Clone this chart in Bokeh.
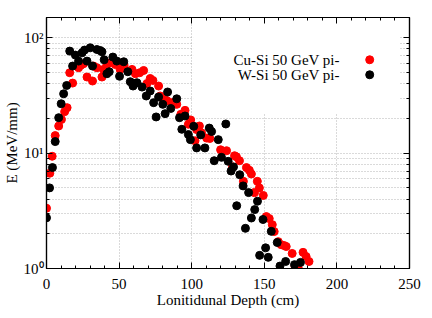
from bokeh.plotting import figure
from bokeh.models import (Range1d, LinearAxis, FixedTicker, Label, BoxAnnotation)
from bokeh.embed import file_html
from bokeh.resources import INLINE

# ---------------- data ----------------
cu_depth = [0, 2.3, 3.9, 6.0, 8.4, 10.3, 12.5, 14.2, 16.0, 18.0, 22.1, 23.8, 25.5,
            27.9, 31.7, 32.4, 34.7, 38.2, 39.2, 41.6, 43.8, 47.3, 49.8, 50.7, 53.4,
            58.9, 61.2, 64.2, 66.9, 69.2, 71.4, 73.3, 77.2, 78.3, 80.6, 82.9, 86.3,
            89.7, 92.5, 95.4, 97.7, 99.3, 102.3, 103.4, 105.3, 106.8, 110.3, 112.5,
            119.9, 124.0, 128.1, 129.5, 130.8, 132.9, 135.6, 137.7, 139.7, 141.1,
            143.2, 145.2, 146.6, 149.3, 151.4, 153.4, 155.5, 156.8, 159.6, 161.6,
            163.7, 165.1, 169.2, 171.2, 173.3, 176.7, 178.8, 180.8]
cu_energy = [3.33, 6.7, 9.4, 14.2, 17.2, 19.6, 22.9, 24.8, 49.8, 40.5, 55.0, 58.0, 59.6,
             45.7, 42.2, 56.9, 55.0, 45.7, 53.2, 58.7, 60.8, 58.7, 60.8, 53.2, 57.3,
             53.2, 48.8, 49.8, 52.1, 40.2, 44.4, 42.7, 38.2, 31.3, 29.2, 28.6, 27.4,
             26.5, 21.7, 23.5, 17.8, 19.4, 12.8, 16.0, 17.2, 15.0, 13.5, 13.4,
             10.7, 10.5, 7.6, 9.5, 9.3, 8.6, 5.7, 7.5, 7.1, 6.6,
             4.55, 5.7, 5.0, 4.3, 2.82, 2.71, 2.40, 2.09, 1.71, 1.61,
             1.58, 1.55, 1.35, 1.04, 1.02, 1.38, 1.27, 1.15]

w_depth = [0.0, 2.1, 4.1, 6.0, 8.4, 10.1, 11.8, 13.9, 16.0, 18.0, 19.9, 22.1, 24.5,
           26.2, 27.9, 30.1, 31.7, 34.7, 37.0, 38.2, 39.7, 41.6, 43.2, 45.7, 48.4,
           50.3, 53.2, 56.0, 57.7, 59.6, 62.3, 65.8, 68.7, 71.4, 73.8, 75.5, 77.2,
           80.1, 81.7, 83.4, 85.6, 89.7, 91.6, 93.2, 95.4, 97.7, 99.1, 101.4, 103.4,
           106.2, 109.1, 112.1, 113.7, 115.5, 118.3, 120.5, 123.5, 125.1, 127.1,
           128.8, 131.0, 133.1, 135.4, 137.0, 139.2, 141.1, 143.4, 145.3, 146.8,
           149.1, 150.9, 152.7, 154.8, 158.9, 160.8, 164.7, 170.8, 174.9]
w_energy = [2.75, 5.0, 7.5, 12.6, 20.3, 26.8, 32.7, 38.6, 76.7, 56.9, 70.8, 62.8, 74.1,
            78.3, 62.8, 81.9, 56.9, 79.2, 77.6, 75.7, 64.5, 48.8, 50.8, 68.1, 62.8,
            46.4, 62.0, 50.8, 41.6, 38.2, 40.8, 37.4, 31.3, 34.6, 27.4, 20.6, 30.7,
            26.5, 22.0, 33.9, 24.4, 29.6, 20.3, 16.1, 21.0, 14.5, 13.1, 17.1, 11.1,
            14.4, 11.1, 16.5, 15.4, 8.6, 13.1, 9.2, 17.9, 8.5, 7.0,
            7.6, 3.5, 6.5, 5.2, 2.23, 4.55, 2.74, 3.24, 3.83, 1.30,
            2.66, 1.51, 1.25, 2.10, 1.68, 1.05, 1.15, 1.08, 1.13]

x_ticks = [0, 50, 100, 150, 200, 250]
y_ticks = [1, 10, 100]
y_tick_labels = ["10\u2070", "10\u00b9", "10\u00b2"]
legend_labels = ["Cu-Si 50 GeV pi-", "W-Si 50 GeV pi-"]
series_colors = ["#ff0000", "#000000"]
x_title = "Lonitidunal Depth (cm)"
y_title = "E (MeV/mm)"

# ---------------- styling / layout ----------------
FONT = "Liberation Serif"
FS = "15px"
GRID = "#b4b4b4"
x_minor = list(range(0, 251, 10))
y_minor = [m * 10 ** e for e in range(0, 3) for m in range(2, 10) if m * 10 ** e <= 150]

p = figure(width=424, height=310,
           x_range=Range1d(0, 250), y_range=Range1d(1, 150),
           y_axis_type="log", output_backend="svg", toolbar_location=None,
           min_border_left=36, min_border_right=15, min_border_top=17,
           min_border_bottom=41, x_axis_label=x_title, y_axis_label=y_title)
p.background_fill_color = "white"
p.border_fill_color = "white"
p.outline_line_color = "black"
p.outline_line_width = 1.2

xt = FixedTicker(ticks=x_ticks, minor_ticks=x_minor)
yt = FixedTicker(ticks=y_ticks, minor_ticks=y_minor)

def style_axis(ax, ticker, labels=True):
    ax.ticker = ticker
    ax.axis_line_color = "black"
    ax.axis_line_width = 1.2
    ax.major_tick_in = 6
    ax.major_tick_out = 0
    ax.minor_tick_in = 3
    ax.minor_tick_out = 0
    ax.major_tick_line_color = "black"
    ax.minor_tick_line_color = "black"
    ax.major_label_text_font = FONT
    ax.axis_label_text_font = FONT
    ax.axis_label_text_font_size = FS
    ax.axis_label_text_font_style = "normal"
    ax.axis_label_text_color = "black"
    if labels:
        ax.major_label_text_font_size = FS
        ax.major_label_text_color = "black"
    else:
        ax.major_label_text_font_size = "1px"
        ax.major_label_text_alpha = 0.0
        ax.major_label_standoff = 0
        ax.axis_label_standoff = 0

style_axis(p.xaxis[0], xt)
p.xaxis[0].major_label_standoff = 10
p.xaxis[0].axis_label_standoff = 0
style_axis(p.yaxis[0], yt)
p.yaxis[0].major_label_standoff = 3
p.yaxis[0].axis_label_standoff = 1
p.yaxis[0].major_label_overrides = dict(zip([float(t) for t in y_ticks], y_tick_labels))

top_ax = LinearAxis()
style_axis(top_ax, xt, labels=False)
p.add_layout(top_ax, "above")
right_ax = LinearAxis()
style_axis(right_ax, yt, labels=False)
p.add_layout(right_ax, "right")

for g, t in ((p.xgrid[0], xt), (p.ygrid[0], yt)):
    g.ticker = t
    g.grid_line_color = GRID
    g.grid_line_dash = "1 2"
    g.grid_line_width = 1
p.ygrid[0].minor_grid_line_color = GRID
p.ygrid[0].minor_grid_line_dash = "1 2"

# legend background (hides grid like the reference key box)
key_box = BoxAnnotation(left=101, right=243, bottom=22, top=150, fill_color="white",
                        fill_alpha=1.0, line_color=None, level="underlay")
p.add_layout(key_box)

# ---------------- data marks ----------------
p.scatter(x=cu_depth, y=cu_energy, size=8, marker="circle",
          fill_color=series_colors[0], line_color=series_colors[0])
p.scatter(x=w_depth, y=w_energy, size=8, marker="circle",
          fill_color=series_colors[1], line_color=series_colors[1])

# ---------------- legend (text right-aligned, key on right) ----------------
legend_text_x = 202
legend_key_x = 222.6
legend_rows_y = [64.5, 47.8]
for lab, ly in zip(legend_labels, legend_rows_y):
    p.add_layout(Label(x=legend_text_x, y=ly, text=lab, text_align="right",
                       text_baseline="middle", text_font=FONT,
                       text_font_size=FS, text_color="black"))
p.scatter(x=[legend_key_x] * len(legend_rows_y), y=legend_rows_y, size=8,
          marker="circle", fill_color=series_colors, line_color=series_colors)

open("out.html", "w").write(file_html(p, INLINE))
